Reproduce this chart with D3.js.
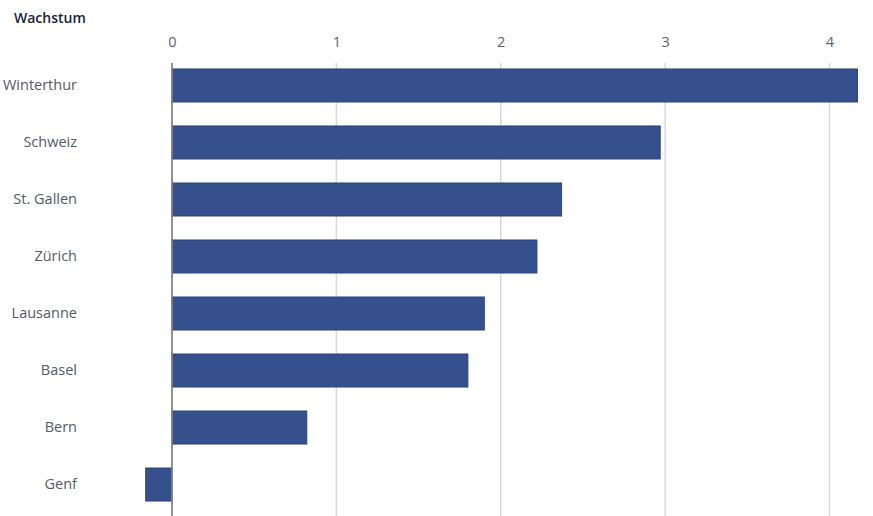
<!DOCTYPE html>
<html><head><meta charset="utf-8">
<script src="https://cdn.jsdelivr.net/npm/d3@7"></script>
<style>body{margin:0;background:#fff}svg{display:block;font-family:"Open Sans","Liberation Sans",sans-serif}</style>
</head><body><svg id="c" width="873" height="516"></svg>
<script>
const categories = ["Winterthur","Schweiz","St. Gallen","Zürich","Lausanne","Basel","Bern","Genf"];
const values = [4.17, 2.97, 2.37, 2.22, 1.90, 1.80, 0.82, -0.16];
const ticks = [0, 1, 2, 3, 4];
const title = "Wachstum";

const FONT = "'Open Sans', 'Liberation Sans', sans-serif";
const svg = d3.select("#c");
const x = d3.scaleLinear().domain([0, 4]).range([172, 829.5]);
const y = d3.scaleBand().domain(categories).range([57, 513]).paddingInner(0.421).paddingOuter(0.21);

svg.append("text").attr("x", 14).attr("y", 23).text(title)
  .attr("font-size", 14).attr("font-weight", 600).attr("fill", "#1a1f3d").attr("font-family", FONT);

const grid = svg.append("g");
grid.selectAll("line").data(ticks).join("line")
  .attr("x1", d => x(d)).attr("x2", d => x(d))
  .attr("y1", 63).attr("y2", 516)
  .attr("stroke", d => d === 0 ? "#8a8a8a" : "#d9d9dc").attr("stroke-width", 1.5);

const xAxis = d3.axisTop(x).tickValues(ticks).tickSize(0).tickFormat(d3.format("d"));
const ga = svg.append("g").attr("transform", "translate(0,50)").call(xAxis);
ga.select(".domain").remove();
ga.selectAll("text").attr("font-size", 14.5).attr("fill", "#5d6378").attr("font-family", FONT);

svg.append("g").selectAll("rect").data(values).join("rect")
  .attr("x", d => x(Math.min(0, d)))
  .attr("width", d => Math.abs(x(d) - x(0)))
  .attr("y", (d, i) => y(categories[i]))
  .attr("height", y.bandwidth())
  .attr("fill", "#36508e").attr("stroke", "#2c4283").attr("stroke-width", 1);

svg.append("line").attr("x1", x(0)).attr("x2", x(0)).attr("y1", 63).attr("y2", 516)
  .attr("stroke", "#8a8a8a").attr("stroke-width", 1.5);

const yAxis = d3.axisLeft(y).tickSize(0);
const gy = svg.append("g").attr("transform", "translate(80,0)").call(yAxis);
gy.select(".domain").remove();
gy.selectAll("text").attr("font-size", 14.5).attr("fill", "#555a66").attr("font-family", FONT);
</script></body></html>
